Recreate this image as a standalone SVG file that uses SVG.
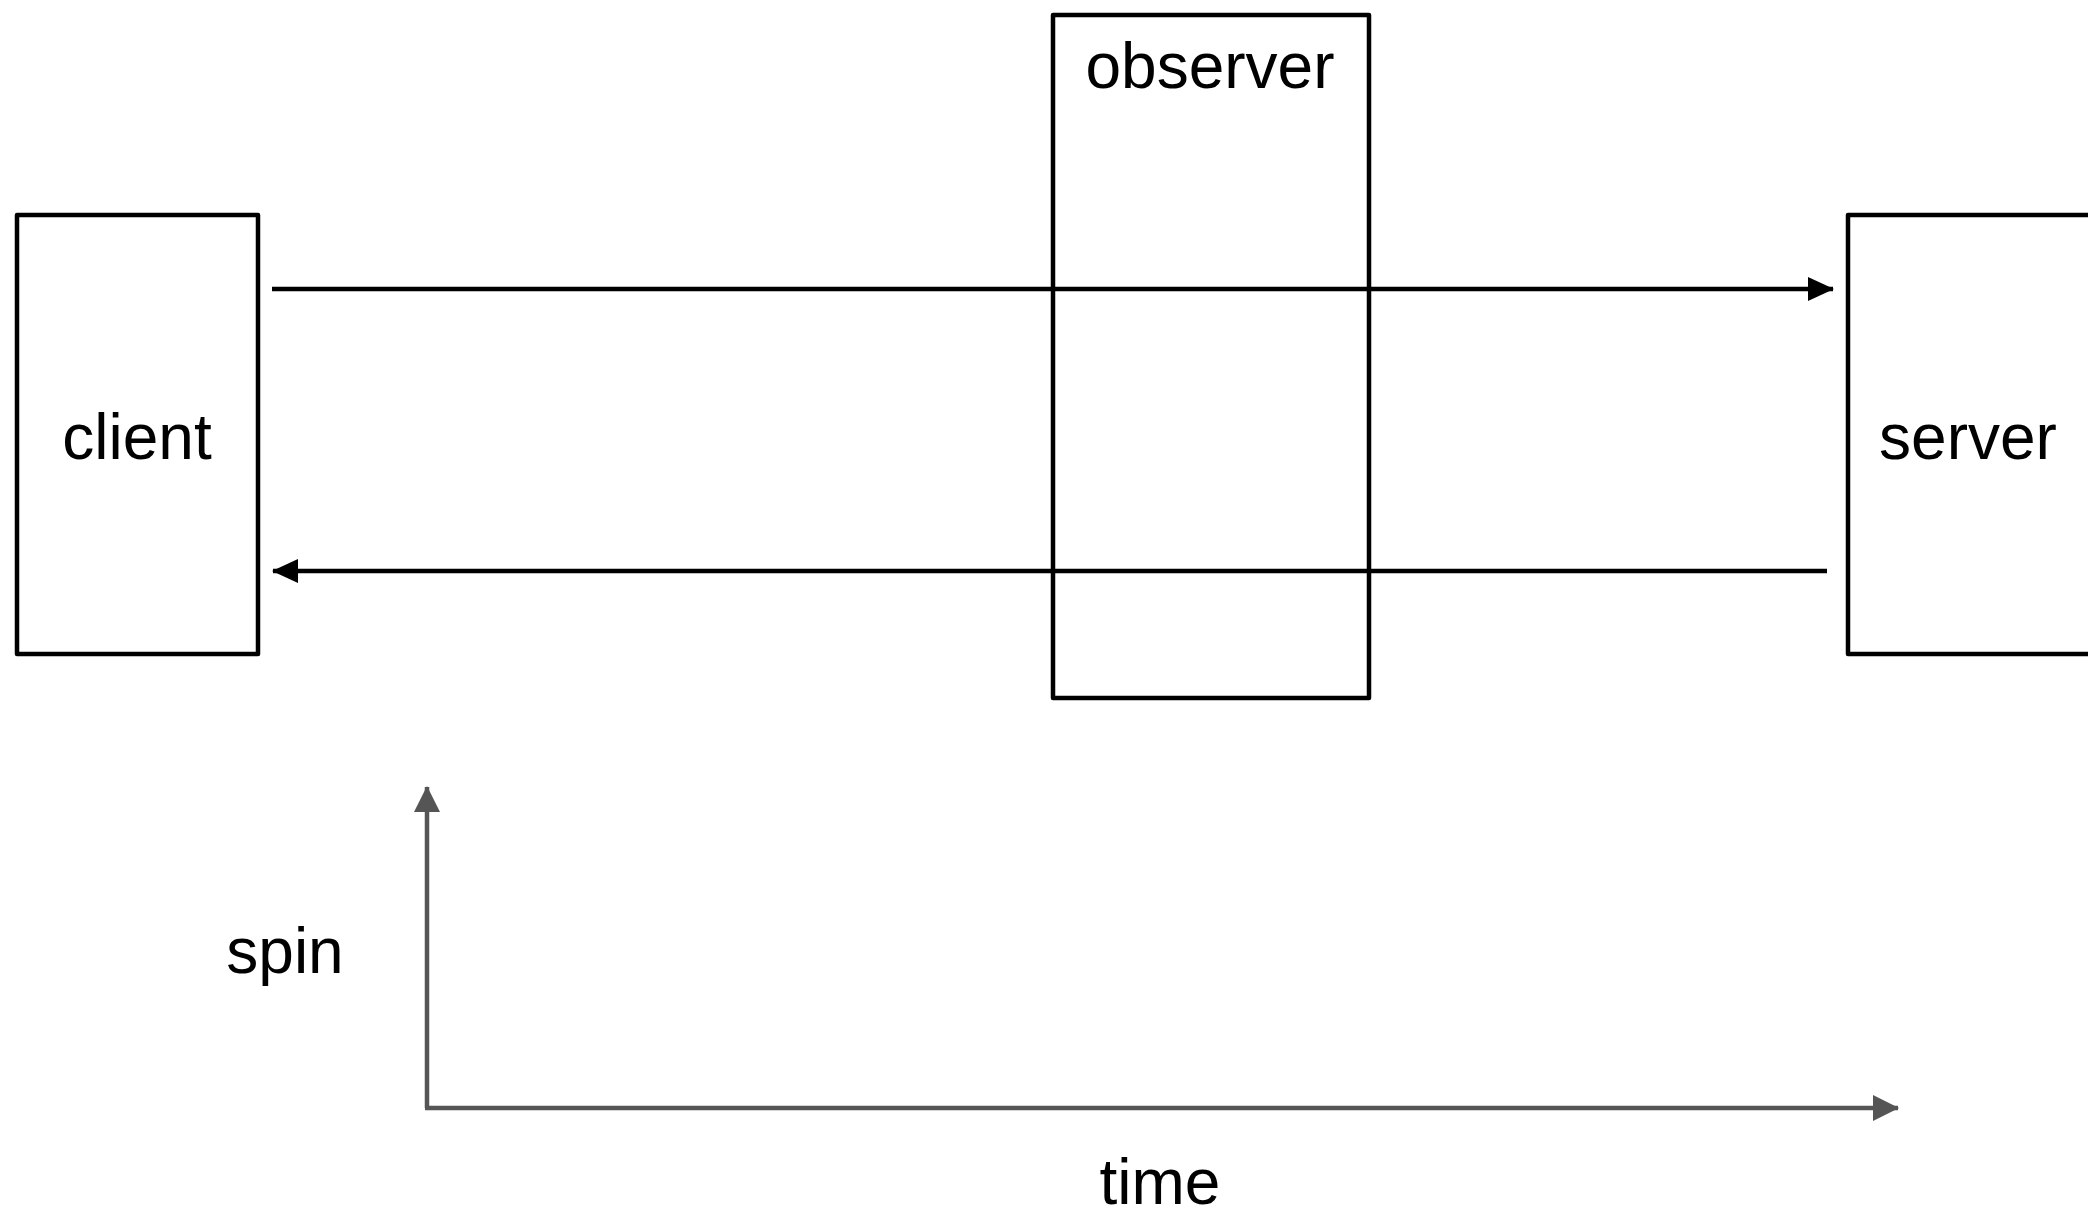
<svg xmlns="http://www.w3.org/2000/svg" width="2088" height="1218" viewBox="0 0 2088 1218">
<style>
.box{fill:#fff;stroke:#000;stroke-width:4.5;stroke-linejoin:round}
.lbl{font-family:"Liberation Sans",Arial,sans-serif;font-size:64px;fill:#000;text-anchor:middle}
.conn{stroke:#000;stroke-width:4.5;fill:none}
.axis{stroke:#555;stroke-width:4.5;fill:none}
</style>
<defs>
<marker id="ah" markerUnits="userSpaceOnUse" markerWidth="26" markerHeight="26" viewBox="0 0 26 24" refX="25" refY="12" orient="auto">
<path d="M0,0 L26,12 L0,24 Z" fill="#000"/>
</marker>
<marker id="ahg" markerUnits="userSpaceOnUse" markerWidth="26" markerHeight="26" viewBox="0 0 26 26" refX="25" refY="13" orient="auto">
<path d="M0,0 L26,13 L0,26 Z" fill="#555"/>
</marker>
</defs>
<g id="observer">
<rect class="box" x="1053" y="15" width="316" height="683"/>
<text class="lbl" x="1210" y="88">observer</text>
</g>
<g id="client">
<rect class="box" x="17" y="215" width="241" height="439"/>
<text class="lbl" x="137" y="459">client</text>
</g>
<g id="server">
<rect class="box" x="1848" y="215" width="250" height="439"/>
<text class="lbl" x="1968" y="459">server</text>
</g>
<g id="connectors">
<line class="conn" x1="272" y1="289" x2="1833" y2="289" marker-end="url(#ah)"/>
<line class="conn" x1="1827" y1="571" x2="273" y2="571" marker-end="url(#ah)"/>
</g>
<g id="axes">
<line class="axis" x1="427" y1="1108" x2="427" y2="787" marker-end="url(#ahg)"/>
<line class="axis" x1="425" y1="1108" x2="1898" y2="1108" marker-end="url(#ahg)"/>
<text class="lbl" x="285" y="973">spin</text>
<text class="lbl" x="1160" y="1204">time</text>
</g>
</svg>
